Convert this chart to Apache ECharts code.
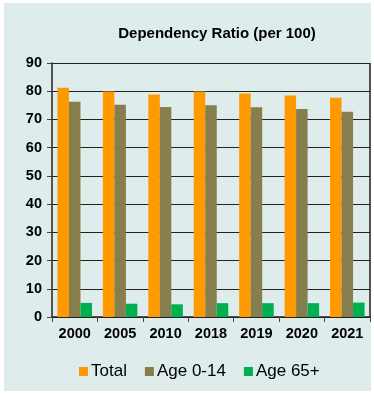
<!DOCTYPE html>
<html>
<head>
<meta charset="utf-8">
<script src="https://cdn.jsdelivr.net/npm/echarts@6/dist/echarts.min.js"></script>
<style>
    body { margin: 0; background: #ffffff; }
    #main-chart { position: absolute; left: 4px; top: 3px; width: 367px; height: 388px; background: #deecec; }
</style>
</head>
<body>
<div id="main-chart"></div>
<script>
var years = ['2000', '2005', '2010', '2018', '2019', '2020', '2021'];
var total = [81.2, 79.9, 78.8, 79.9, 79.2, 78.5, 77.7];
var age0_14 = [76.3, 75.2, 74.4, 75.0, 74.3, 73.7, 72.7];
var age65 = [5.0, 4.7, 4.5, 4.9, 4.9, 4.9, 5.1];

var myChart = echarts.init(document.getElementById('main-chart'));

var option = {
    title: {
        text: 'Dependency Ratio (per 100)',
        left: 208,
        top: 18,
        textAlign: 'center',
        textStyle: { fontFamily: 'Liberation Sans', fontSize: 15, fontWeight: 'bold', color: '#000' }
    },
    legend: {
        data: ['Total', 'Age 0-14', 'Age 65+'],
        top: 355,
        left: 70,
        itemWidth: 9,
        itemHeight: 9,
        itemGap: 18,
        icon: 'rect',
        textStyle: { fontFamily: 'Liberation Sans', fontSize: 17, color: '#000', padding: [0, 0, 0, -2] }
    },
    grid: {
        left: 48,
        right: 1,
        top: 60,
        bottom: 74
    },
    xAxis: {
        type: 'category',
        data: years,
        axisLine: { lineStyle: { color: '#222', width: 1.5 } },
        axisTick: { show: true, length: 5, lineStyle: { color: '#444' } },
        axisLabel: { fontFamily: 'Liberation Sans', fontSize: 14.5, fontWeight: 'bold', color: '#000', margin: 9 }
    },
    yAxis: {
        type: 'value',
        min: 0,
        max: 90,
        interval: 10,
        axisLine: { show: true, lineStyle: { color: '#222', width: 1.5 } },
        axisTick: { show: true, length: 5, lineStyle: { color: '#444' } },
        axisLabel: { fontFamily: 'Liberation Sans', fontSize: 14.5, fontWeight: 'bold', color: '#000', margin: 10 },
        splitLine: { lineStyle: { color: '#222', width: 1 } }
    },
    series: [
        {
            name: 'Total',
            type: 'bar',
            data: total,
            itemStyle: { color: '#ff9900' },
            barGap: '0%',
            barCategoryGap: '24%'
        },
        {
            name: 'Age 0-14',
            type: 'bar',
            data: age0_14,
            itemStyle: { color: '#877e4e' }
        },
        {
            name: 'Age 65+',
            type: 'bar',
            data: age65,
            itemStyle: { color: '#00b050' }
        },
        {
            // right border of the plot area
            type: 'line',
            data: [],
            markLine: {
                silent: true,
                symbol: 'none',
                label: { show: false },
                lineStyle: { color: '#222', type: 'solid', width: 1.5 },
                data: [[{ coord: ['2021', 0], x: '99.7%' }, { coord: ['2021', 90], x: '99.7%' }]]
            }
        }
    ]
};
myChart.setOption(option);
</script>
</body>
</html>
